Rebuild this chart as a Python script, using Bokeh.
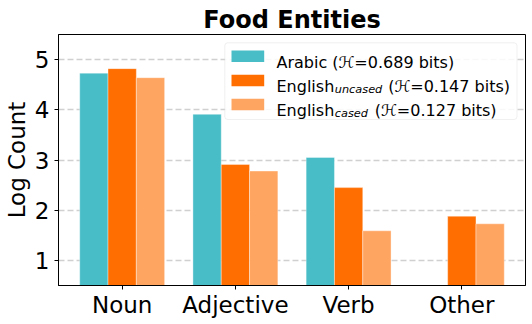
from bokeh.plotting import figure
from bokeh.models import FactorRange, Range1d, Label, BoxAnnotation, ColumnDataSource, FixedTicker
from bokeh.transform import dodge
from bokeh.embed import file_html
from bokeh.resources import INLINE

# ---- data ----
categories = ["Noun", "Adjective", "Verb", "Other"]
arabic = [4.73, 3.91, 3.05, 0.0]
english_uncased = [4.82, 2.91, 2.45, 1.88]
english_cased = [4.64, 2.78, 1.59, 1.73]
y_ticks = [1, 2, 3, 4, 5]
series_names = ["Arabic", "English", "English"]
series_subscripts = ["", "uncased", "cased"]
entropy_bits = [0.689, 0.147, 0.127]
title_text = "Food Entities"
y_label = "Log Count"

colors = ["#48BDC7", "#FF6E00", "#FFA562"]
FONT = "DejaVu Sans"

FW, FH = 467, 251
LEFT, TOP = 57, 34
PX0 = LEFT
PY_BOTTOM = TOP + FH


def fx(page_x):
    return page_x - PX0


def fy(page_y):
    return PY_BOTTOM - page_y


source = ColumnDataSource(dict(cat=categories, arabic=arabic,
                               uncased=english_uncased, cased=english_cased))

p = figure(
    title=title_text,
    x_range=FactorRange(*categories, range_padding=0.0625, range_padding_units="absolute"),
    y_range=Range1d(0.5, 5.5),
    frame_width=FW, frame_height=FH,
    min_border_left=LEFT, min_border_right=6, min_border_top=TOP, min_border_bottom=34,
    output_backend="svg", toolbar_location=None,
)
p.background_fill_color = "white"
p.border_fill_color = "white"
p.outline_line_color = "black"
p.outline_line_width = 1
p.outline_line_alpha = 1

p.title.align = "center"
p.title.text_font = FONT
p.title.text_font_size = "24px"
p.title.text_font_style = "bold"
p.title.text_color = "black"
p.title.standoff = 2

for col, off, c in zip(["arabic", "uncased", "cased"], [-0.25, 0.0, 0.25], colors):
    p.vbar(x=dodge("cat", off, range=p.x_range), top=col, bottom=0, width=0.25, source=source,
           fill_color=c, line_color="white", line_width=0.6, line_alpha=0.6)

p.xgrid.grid_line_color = None
p.ygrid.grid_line_color = "#b0b0b0"
p.ygrid.grid_line_alpha = 0.6
p.ygrid.grid_line_width = 1.5
p.ygrid.grid_line_dash = "6 3"
p.yaxis.ticker = FixedTicker(ticks=y_ticks)

for ax in (p.xaxis[0], p.yaxis[0]):
    ax.axis_line_color = "black"
    ax.axis_line_width = 1
    ax.major_tick_line_color = "black"
    ax.major_tick_out = 4
    ax.major_tick_in = 0
    ax.minor_tick_line_color = None
    ax.major_label_text_font = FONT
    ax.major_label_text_font_size = "23px"
    ax.major_label_text_color = "black"
p.yaxis.major_label_standoff = 5
p.xaxis.major_label_standoff = 2

p.yaxis.axis_label = y_label
p.yaxis.axis_label_text_font = FONT
p.yaxis.axis_label_text_font_size = "23px"
p.yaxis.axis_label_text_font_style = "normal"
p.yaxis.axis_label_text_color = "black"
p.yaxis.axis_label_standoff = 2

# legend box
p.add_layout(BoxAnnotation(left=fx(223.3), right=fx(515.5), top=fy(42.3), bottom=fy(119),
                           left_units="screen", right_units="screen", top_units="screen", bottom_units="screen",
                           fill_color="white", fill_alpha=0.85, line_color="#cccccc", line_width=1,
                           border_radius=3, level="annotation"))
row_tops = [50, 74.2, 98.3]
sub_x = [None, 333.3, 333.3]
rest_x = [275, 386.7, 373.3]
for i in range(3):
    p.add_layout(BoxAnnotation(left=fx(230), right=fx(262.7), top=fy(row_tops[i]), bottom=fy(row_tops[i] + 11.5),
                               left_units="screen", right_units="screen", top_units="screen", bottom_units="screen",
                               fill_color=colors[i], fill_alpha=1, line_color=None, level="annotation"))
    base = row_tops[i] + 11.8
    ent = f"(\u210B={entropy_bits[i]:.3f} bits)"
    if series_subscripts[i]:
        p.add_layout(Label(x=fx(275), y=fy(base), x_units="screen", y_units="screen", text=series_names[i],
                           text_font=FONT, text_font_size="16px", text_baseline="alphabetic", text_color="black"))
        p.add_layout(Label(x=fx(sub_x[i]), y=fy(base + 3.3), x_units="screen", y_units="screen",
                           text=series_subscripts[i], text_font=FONT, text_font_size="11.3px",
                           text_font_style="italic", text_baseline="alphabetic", text_color="black"))
        p.add_layout(Label(x=fx(rest_x[i]), y=fy(base), x_units="screen", y_units="screen", text=ent,
                           text_font=FONT, text_font_size="16px", text_baseline="alphabetic", text_color="black"))
    else:
        p.add_layout(Label(x=fx(275), y=fy(base), x_units="screen", y_units="screen",
                           text=f"{series_names[i]} {ent}",
                           text_font=FONT, text_font_size="16px", text_baseline="alphabetic", text_color="black"))

open("out.html", "w").write(file_html(p, INLINE))
